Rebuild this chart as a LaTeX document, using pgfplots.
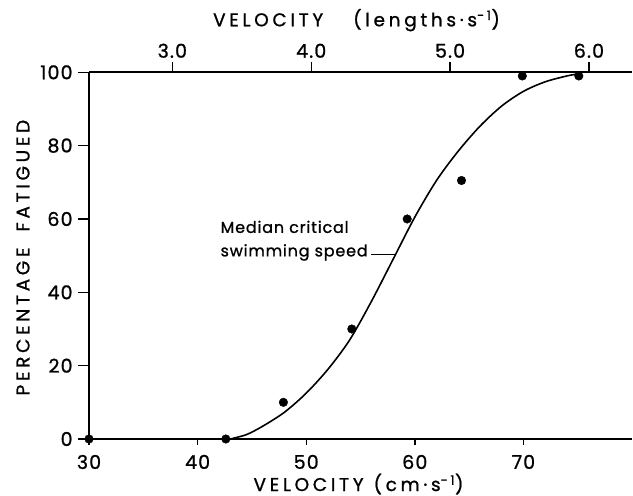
\documentclass[border=0pt]{standalone}
\usepackage{pgfplots}
\pgfplotsset{compat=1.18}
\usepackage{fontspec}
\setmainfont{Poppins}
\newfontfamily\labf[LetterSpace=20, FakeBold=1]{Poppins}
\newfontfamily\tickff[LetterSpace=6, FakeBold=1]{Poppins}
\newfontfamily\annff[LetterSpace=5, FakeBold=1]{Poppins}
\newcommand\tickf{\tickff\fontsize{19bp}{19bp}\selectfont}
\newcommand\annf{\annff\fontsize{16bp}{19bp}\selectfont}
\newcommand\titf{\labf\fontsize{18.5bp}{18.5bp}\selectfont}
\begin{document}
\begin{tikzpicture}
\begin{axis}[
  name=main,
  scale only axis, width=543bp, height=366.7bp,
  xmin=30, xmax=80, ymin=0, ymax=100,
  axis x line*=bottom, axis y line*=left,
  axis line style={line width=1.6bp, -},
  xtick={30,40,50,60,70}, xticklabels={30,40,50,60,70},
  ytick={0,20,40,60,80,100}, yticklabels={0,20,40,60,80,100},
  tick align=outside,
  major tick style={line width=1.4bp, black},
  xtick style={/pgfplots/major tick length=6bp},
  ytick style={/pgfplots/major tick length=11bp},
  ticklabel style={font=\tickf, inner sep=1bp},
  xticklabel style={yshift=-10.5bp},
  yticklabel style={xshift=-11bp},
  clip=false,
]
\addplot[smooth, tension=0.5, line width=1.6bp, black] coordinates {
(43.0,0) (44.5,1.2) (46,3.5) (48,7.3) (50,12.5) (52,19) (54,27) (56,37.5)
(58,49) (60,60.5) (62,70.5) (64,78.5) (66,85.3) (68,90.8) (70,94.8) (72,97.4) (74,99.0) (75.3,99.7)};
\addplot[only marks, mark=*, mark size=4.3bp, black] coordinates {
(30,0) (42.6,0) (47.9,10) (54.2,30) (59.3,60) (64.3,70.5) (69.9,99) (75.1,99)};
\addplot[line width=1.4bp, black] coordinates {(56.0,50.3) (58.2,50.3)};
\node[anchor=base west, inner sep=0pt, font=\annf] at (axis cs:42.1,56.2) {Median critical};
\node[anchor=base west, inner sep=0pt, font=\annf] at (axis cs:42.1,49.8) {swimming speed};
\node[anchor=base, inner sep=0pt, font=\titf] at ([xshift=-2bp,yshift=-52bp]rel axis cs:0.5,0) {VELOCITY\hspace{10bp}(cm·s\textsuperscript{-1})};
\node[anchor=base, inner sep=0pt, font=\titf] at ([xshift=-4bp,yshift=46bp]rel axis cs:0.5,1) {VELOCITY\hspace{30bp}(lengths·s\textsuperscript{-1})};
\node[anchor=center, rotate=90, inner sep=0pt, font=\titf] at ([xshift=-66bp,yshift=-2bp]rel axis cs:0,0.5) {PERCENTAGE\hspace*{16bp}FATIGUED};
\end{axis}
\begin{axis}[
  scale only axis, width=543bp, height=366.7bp,
  xmin=2.400, xmax=6.310, ymin=0, ymax=100,
  axis x line*=top, axis y line=none,
  axis line style={line width=1.6bp, -},
  xtick={3,4,5,6}, xticklabels={3.0,4.0,5.0,6.0},
  tick align=outside,
  major tick style={line width=1.4bp, black},
  xtick style={/pgfplots/major tick length=10bp},
  ticklabel style={font=\tickf, inner sep=1bp},
  xticklabel style={yshift=9bp},
]
\end{axis}
\path ([shift={(-89bp,-57bp)}]main.south west) rectangle ([shift={(1bp,72.3bp)}]main.north east);
\end{tikzpicture}
\end{document}
